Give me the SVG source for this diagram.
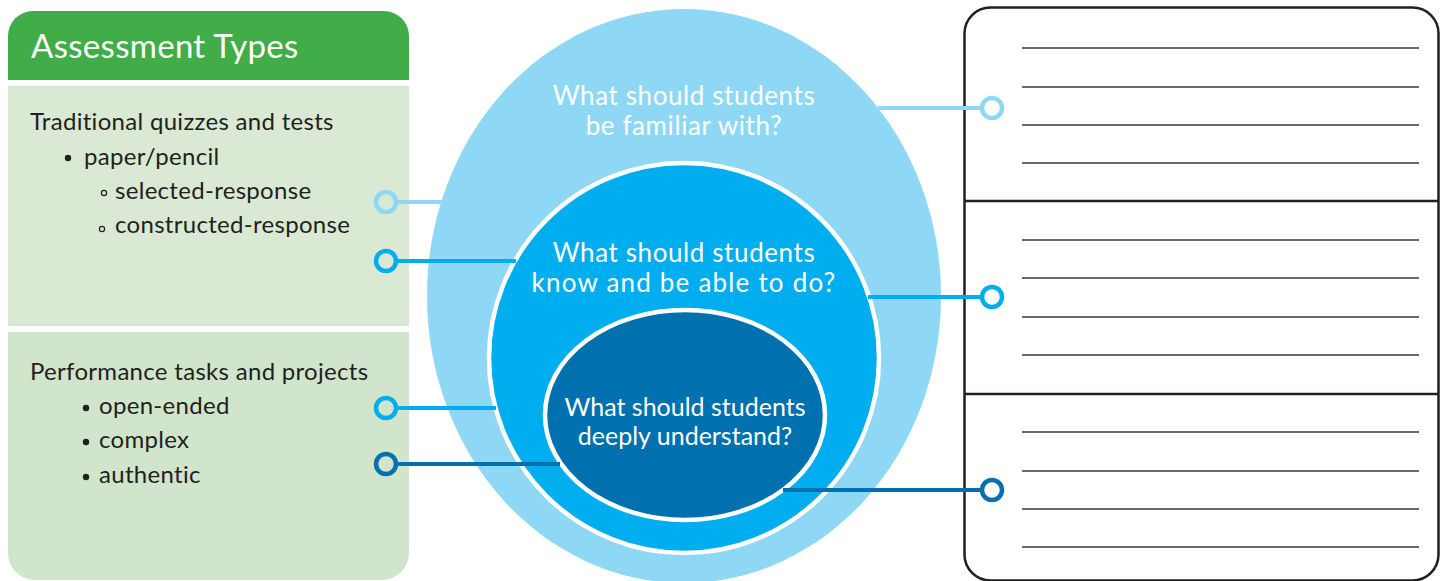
<svg xmlns="http://www.w3.org/2000/svg" width="1442" height="581" viewBox="0 0 1442 581">
<style>
.hd{font-family:Lato,"Liberation Sans",sans-serif;font-size:33px;fill:#fff;letter-spacing:0.3px}
.tx{font-family:Lato,"Liberation Sans",sans-serif;font-size:24px;fill:#231f20;letter-spacing:0.3px}
.q{font-family:Lato,"Liberation Sans",sans-serif;font-size:26px;fill:#fff;text-anchor:middle;letter-spacing:0.6px}
.qi{font-family:Lato,"Liberation Sans",sans-serif;font-size:25px;fill:#fff;text-anchor:middle}
.rule{stroke:#3a3a3a;stroke-width:1.3}
.dot{stroke-width:4.5}
.c1{stroke:#8ed8f6}.c2{stroke:#00aeef}.c3{stroke:#0071ae}
.ln{stroke-width:4}
</style>
<g id="assessment-types">
<path d="M8,80 V36 A25,25 0 0 1 33,11 H384 A25,25 0 0 1 409,36 V80 Z" fill="#41ad49"/>
<text class="hd" x="31" y="58">Assessment Types</text>
</g>
<g id="traditional">
<rect x="8" y="86" width="401" height="240" fill="#d9e9d4"/>
<text class="tx" x="30" y="130">Traditional quizzes and tests</text>
<circle cx="68" cy="158" r="3.2" fill="#231f20"/>
<text class="tx" x="84" y="165">paper/pencil</text>
<circle cx="104" cy="193" r="2.6" fill="none" stroke="#231f20" stroke-width="1.2"/>
<text class="tx" x="115" y="199">selected-response</text>
<circle cx="102" cy="229" r="2.6" fill="none" stroke="#231f20" stroke-width="1.2"/>
<text class="tx" x="115" y="233">constructed-response</text>
</g>
<g id="performance">
<path d="M8,332 H409 V553 A27,27 0 0 1 382,580 H35 A27,27 0 0 1 8,553 Z" fill="#d0e5cb"/>
<text class="tx" x="30" y="380">Performance tasks and projects</text>
<circle cx="86" cy="408" r="3.2" fill="#231f20"/>
<text class="tx" x="99" y="414">open-ended</text>
<circle cx="86" cy="442" r="3.2" fill="#231f20"/>
<text class="tx" x="99" y="448">complex</text>
<circle cx="86" cy="477" r="3.2" fill="#231f20"/>
<text class="tx" x="99" y="483">authentic</text>
</g>
<g id="familiar">
<ellipse cx="684" cy="296" rx="257" ry="287" fill="#8ed8f6"/>
<text class="q"><tspan x="684" y="105">What should students</tspan><tspan x="684" y="135">be familiar with?</tspan></text>
</g>
<g id="know">
<ellipse cx="684" cy="358" rx="195" ry="195" fill="#00aeef" stroke="#fff" stroke-width="4.5"/>
<text class="q"><tspan x="684" y="262">What should students</tspan><tspan x="684" y="292" letter-spacing="1.2">know and be able to do?</tspan></text>
</g>
<g id="understand">
<ellipse cx="685" cy="415" rx="140" ry="105" fill="#0071ae" stroke="#fff" stroke-width="4.5"/>
<text class="qi"><tspan x="685" y="416">What should students</tspan><tspan x="685" y="445">deeply understand?</tspan></text>
</g>
<g id="answer-box">
<rect x="964.5" y="7.5" width="474" height="573" rx="26" fill="#fff" stroke="#231f20" stroke-width="2.5"/>
<line x1="964.5" y1="201" x2="1438.5" y2="201" stroke="#231f20" stroke-width="2.5"/>
<line x1="964.5" y1="394" x2="1438.5" y2="394" stroke="#231f20" stroke-width="2.5"/>
<line class="rule" x1="1022" y1="48" x2="1419" y2="48"/>
<line class="rule" x1="1022" y1="87" x2="1419" y2="87"/>
<line class="rule" x1="1022" y1="125" x2="1419" y2="125"/>
<line class="rule" x1="1022" y1="163" x2="1419" y2="163"/>
<line class="rule" x1="1022" y1="240" x2="1419" y2="240"/>
<line class="rule" x1="1022" y1="278" x2="1419" y2="278"/>
<line class="rule" x1="1022" y1="317" x2="1419" y2="317"/>
<line class="rule" x1="1022" y1="355" x2="1419" y2="355"/>
<line class="rule" x1="1022" y1="432" x2="1419" y2="432"/>
<line class="rule" x1="1022" y1="471" x2="1419" y2="471"/>
<line class="rule" x1="1022" y1="509" x2="1419" y2="509"/>
<line class="rule" x1="1022" y1="547" x2="1419" y2="547"/>
</g>
<g id="connectors" fill="none">
<line class="ln c1" x1="396" y1="202" x2="442" y2="202"/>
<circle class="dot c1" cx="386" cy="202" r="10"/>
<line class="ln c2" x1="396" y1="261" x2="516" y2="261"/>
<circle class="dot c2" cx="386" cy="261" r="10"/>
<line class="ln c2" x1="396" y1="408" x2="496" y2="408"/>
<circle class="dot c2" cx="386" cy="408" r="10"/>
<line class="ln c3" x1="396" y1="464" x2="560" y2="464"/>
<circle class="dot c3" cx="386" cy="464" r="10"/>
<line class="ln c1" x1="878" y1="108" x2="982" y2="108"/>
<circle class="dot c1" cx="992" cy="108" r="10" fill="#fff"/>
<line class="ln c2" x1="868" y1="297" x2="982" y2="297"/>
<circle class="dot c2" cx="992" cy="297" r="10" fill="#fff"/>
<line class="ln c3" x1="783" y1="490" x2="982" y2="490"/>
<circle class="dot c3" cx="992" cy="490" r="10" fill="#fff"/>
</g>
</svg>
